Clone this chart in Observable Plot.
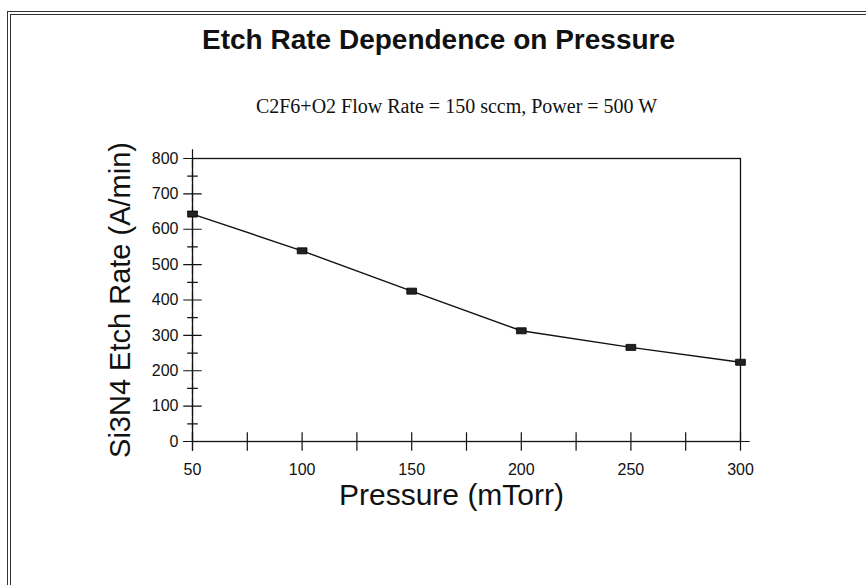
<!DOCTYPE html>
<html>
<head>
<meta charset="utf-8">
<script src="https://cdn.jsdelivr.net/npm/d3@7"></script>
<script src="https://cdn.jsdelivr.net/npm/@observablehq/plot@0.6"></script>
<style>
  html, body { margin: 0; padding: 0; background: #fff; }
  #wrap { position: relative; width: 866px; height: 585px; overflow: hidden; }
  #border { position: absolute; left: 7px; top: 11px; width: 900px; height: 700px;
            border-top: 4px double #333; border-left: 4px double #333; }
  #chart { position: absolute; left: 0; top: 0; }
</style>
</head>
<body>
<div id="wrap"><div id="border"></div><div id="chart"></div></div>
<script>
const title = "Etch Rate Dependence on Pressure";
const subtitle = "C2F6+O2 Flow Rate = 150 sccm, Power = 500 W";
const xLabel = "Pressure (mTorr)";
const yLabel = "Si3N4 Etch Rate (A/min)";

const pressure = [50, 100, 150, 200, 250, 300];
const etchRate = [643, 539, 425, 313, 266, 224];

const xTickLabels = [50, 100, 150, 200, 250, 300];
const xTickMarks = [50, 75, 100, 125, 150, 175, 200, 225, 250, 275, 300];
const yTickLabels = [0, 100, 200, 300, 400, 500, 600, 700, 800];
const yMinorTicks = [50, 150, 250, 350, 450, 550, 650, 750];

const data = pressure.map((p, i) => ({p, r: etchRate[i]}));

const rectSymbol = {
  draw(ctx, size) {
    const s = Math.sqrt(size);
    const w = s * 1.0, h = s * 0.62;
    ctx.rect(-w / 2, -h / 2, w, h);
  }
};

const sans = "'Liberation Sans', Arial, sans-serif";

const chart = Plot.plot({
  width: 866,
  height: 585,
  marginTop: 158,
  marginLeft: 192,
  marginRight: 126,
  marginBottom: 144,
  style: {fontFamily: sans, fontSize: "16px", color: "#111", background: "transparent"},
  x: {domain: [50, 300]},
  y: {domain: [0, 800]},
  marks: [
    Plot.frame({stroke: "#111", strokeWidth: 1.3}),
    Plot.axisX({ticks: xTickLabels, tickSize: 0, tickPadding: 22, label: null, fontSize: 16}),
    Plot.axisY({ticks: yTickLabels, tickSize: 0, tickPadding: 14, label: null, fontSize: 16}),
    Plot.dot(xTickMarks, {x: d => d, y: 0, symbol: "plus", r: 6, stroke: "#111", strokeWidth: 1.2}),
    Plot.dot(yTickLabels, {x: 50, y: d => d, symbol: "plus", r: 6, stroke: "#111", strokeWidth: 1.2}),
    Plot.dot(yMinorTicks, {x: 50, y: d => d, symbol: "plus", r: 3.5, stroke: "#111", strokeWidth: 1.2}),
    Plot.line(data, {x: "p", y: "r", stroke: "#111", strokeWidth: 1.4}),
    Plot.dot(data, {x: "p", y: "r", symbol: rectSymbol, r: 5.5, fill: "#222", stroke: "#000", strokeWidth: 0.8}),
    Plot.text([title], {text: d => d, frameAnchor: "top", lineAnchor: "middle", dx: -28, dy: -118, fontSize: 28, fontWeight: "bold", fontFamily: sans, fill: "#111"}),
    Plot.text([subtitle], {text: d => d, frameAnchor: "top", lineAnchor: "middle", dx: -10, dy: -52, fontSize: 20, fontFamily: "'Liberation Serif', 'Times New Roman', serif", fill: "#111"}),
    Plot.text([xLabel], {text: d => d, frameAnchor: "bottom", lineAnchor: "middle", dx: -15, dy: 54, fontSize: 30, fontFamily: sans, fill: "#111"}),
    Plot.text([yLabel], {text: d => d, frameAnchor: "left", textAnchor: "middle", lineAnchor: "middle", dx: -72, rotate: -90, fontSize: 29, fontFamily: sans, fill: "#111"})
  ]
});
document.getElementById("chart").appendChild(chart);
</script>
</body>
</html>
